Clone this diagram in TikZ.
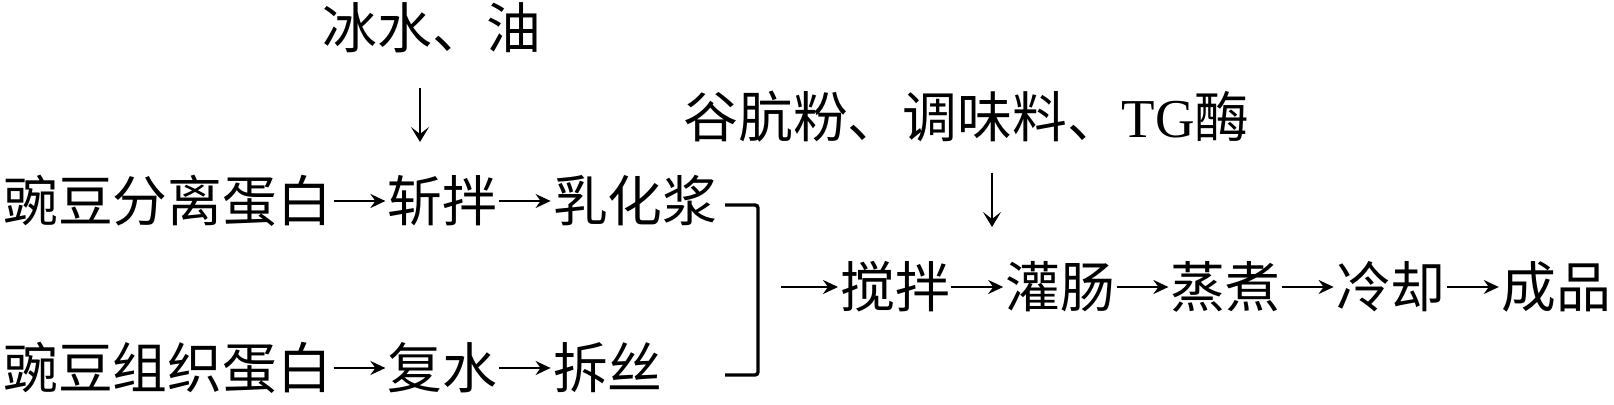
\documentclass[tikz,border=0pt]{standalone}
\usepackage{fontspec}
\setmainfont{Liberation Serif}
\newfontfamily\cjk{Noto Sans CJK SC}
\usetikzlibrary{positioning,arrows.meta}

\tikzset{
  stage/.style={inner sep=0pt, font=\cjk\fontsize{27.4}{30}\selectfont,
    text height=24.1pt, text depth=3.3pt},
  flow/.style={-{Stealth[length=7.5pt,width=7pt,inset=2.5pt]}, line width=1pt,
    shorten <=0.5pt, shorten >=1pt},
  drop/.style={-{Stealth[length=7.5pt,width=9pt,inset=3.5pt]}, line width=0.8pt},
  bracket/.style={line width=1.7pt, rounded corners=1.5pt}
}

\begin{document}
\begin{tikzpicture}[x=0.5pt, y=-0.5pt, node distance=27.4pt]
\useasboundingbox (0,0) rectangle (1614,405);

% additions
\node[stage] (ice) at (432,28) {冰水、油};
\node[stage, anchor=west] (adds) at (683,117) {谷肮粉、调味料、{\rmfamily TG}酶};
\coordinate (d1a) at (420,88);
\coordinate (d1b) at (420,142);
\coordinate (d2a) at (992,173);
\coordinate (d2b) at (992,227);
\draw[drop] (d1a) -- (d1b);
\draw[drop] (d2a) -- (d2b);

% first line
\node[stage, anchor=west] (pea1) at (3,201) {豌豆分离蛋白};
\node[stage, right=of pea1] (chop) {斩拌};
\node[stage, right=of chop] (emul) {乳化浆};
\draw[flow] (pea1) -- (chop);
\draw[flow] (chop) -- (emul);

% second line
\node[stage, anchor=west] (pea2) at (3,368) {豌豆组织蛋白};
\node[stage, right=of pea2] (rehyd) {复水};
\node[stage, right=of rehyd] (shred) {拆丝};
\draw[flow] (pea2) -- (rehyd);
\draw[flow] (rehyd) -- (shred);

% join
\draw[bracket] (725,205) -- (758,205) -- (758,375) -- (725,375);

% main line
\coordinate (join) at (780,287);
\node[stage, anchor=west] (stir) at (840,287) {搅拌};
\node[stage, right=of stir] (fill) {灌肠};
\node[stage, right=of fill] (steam) {蒸煮};
\node[stage, right=of steam] (cool) {冷却};
\node[stage, right=of cool] (done) {成品};
\draw[flow] (join) -- (stir);
\draw[flow] (stir) -- (fill);
\draw[flow] (fill) -- (steam);
\draw[flow] (steam) -- (cool);
\draw[flow] (cool) -- (done);
\end{tikzpicture}
\end{document}
